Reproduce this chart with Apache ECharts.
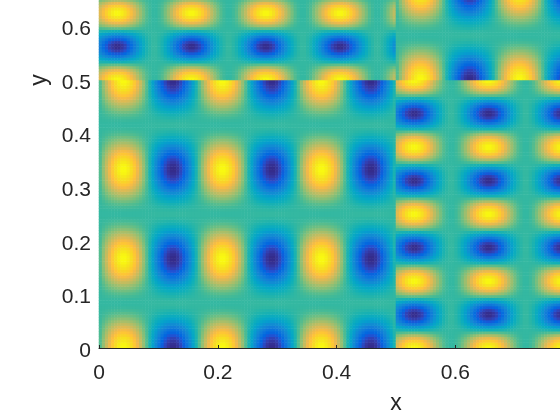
<!DOCTYPE html>
<html><head><meta charset="utf-8">
<style>html,body{margin:0;padding:0;background:#fff}#c{width:560px;height:420px;overflow:hidden}</style>
<script src="https://cdn.jsdelivr.net/npm/echarts@6/dist/echarts.min.js"></script>
</head><body><div id="c"></div>
<script>
var xTicks = ['0','0.2','0.4','0.6','0.8','1'];
var yTicks = ['0','0.1','0.2','0.3','0.4','0.5','0.6','0.7','0.8','0.9','1'];
var xLabel = 'x', yLabel = 'y';
var bands = 192;
var xSlow = [
.10,.29,.47,.63,.77,.88,.96,1,1,.96,.88,.77,.63,.47,.29,.10,-.10,-.29,-.47,-.63,-.77,-.88,-.96,-1,-1,-.96,-.88,-.77,-.63,-.47,-.29,-.10,
.10,.29,.47,.63,.77,.88,.96,1,1,.96,.88,.77,.63,.47,.29,.10,-.10,-.29,-.47,-.63,-.77,-.88,-.96,-1,-1,-.96,-.88,-.77,-.63,-.47,-.29,-.10,
.10,.29,.47,.63,.77,.88,.96,1,1,.96,.88,.77,.63,.47,.29,.10,-.10,-.29,-.47,-.63,-.77,-.88,-.96,-1,-1,-.96,-.88,-.77,-.63,-.47,-.29,-.10,
.10,.29,.47,.63,.77,.88,.96,1,1,.96,.88,.77,.63,.47,.29,.10,-.10,-.29,-.47,-.63,-.77,-.88,-.96,-1,-1,-.96,-.88,-.77,-.63,-.47,-.29,-.10,
.10,.29,.47,.63,.77,.88,.96,1,1,.96,.88,.77,.63,.47,.29,.10,-.10,-.29,-.47,-.63,-.77,-.88];
var xFast = [
.57,.69,.80,.90,.96,1,1,.96,.90,.80,.69,.57,.43,.31,.20,.10,.04,0,0,.04,.10,.20,.31,.43,
.57,.69,.80,.90,.96,1,1,.96,.90,.80,.69,.57,.43,.31,.20,.10,.04,0,0,.04,.10,.20,.31,.43,
.57,.69,.80,.90,.96,1,1,.96,.90,.80,.69,.57,.43,.31,.20,.10,.04,0,0,.04,.10,.20,.31,.43,
.57,.69,.80,.90,.96,1,1,.96,.90,.80,.69,.57,.43,.31,.20,.10,.04,0,0,.04,.10,.20,.31,.43,
.57,.69,.80,.90,.96,1,1,.96,.90,.80,.69,.57,.43,.31,.20,.10,.04,0,0,.04,.10,.20,.31,.43,
.57,.69,.80,.90,.96,1,1,.96,.90,.80,.69,.57,.43,.31,.20,.10,.04,0,0,.04,.10,.20,.31,.43,
.57,.69,.80,.90,.96,1];
var ySlow = [
1,.98,.94,.89,.82,.74,.65,.55,.45,.35,.26,.18,.11,.06,.02,0,0,.02,.06,.11,.18,.26,.35,.45,.55,.65,.74,.82,.89,.94,.98,1,
1,.98,.94,.89,.82,.74,.65,.55,.45,.35,.26,.18,.11,.06,.02,0,0,.02,.06,.11,.18,.26,.35,.45,.55,.65,.74,.82,.89,.94,.98,1,
1,.98,.94,.89,.82,.74,.65,.55,.45,.35,.26,.18,.11,.06,.02,0,0,.02,.06,.11,.18,.26,.35,.45,.55,.65,.74,.82,.89,.94,.98,1,
1,.98,.94,.89,.82,.74,.65,.55,.45,.35,.26,.18,.11,.06,.02,0,0,.02,.06,.11,.18,.26,.35,.45,.55,.65,.74,.82,.89,.94];
var yFast = [
.99,.92,.79,.61,.38,.13,-.13,-.38,-.61,-.79,-.92,-.99,-.99,-.92,-.79,-.61,-.38,-.13,.13,.38,.61,.79,.92,.99,
.99,.92,.79,.61,.38,.13,-.13,-.38,-.61,-.79,-.92,-.99,-.99,-.92,-.79,-.61,-.38,-.13,.13,.38,.61,.79,.92,.99,
.99,.92,.79,.61,.38,.13,-.13,-.38,-.61,-.79,-.92,-.99,-.99,-.92,-.79,-.61,-.38,-.13,.13,.38,.61,.79,.92,.99,
.99,.92,.79,.61,.38,.13,-.13,-.38,-.61,-.79,-.92,-.99,-.99,-.92,-.79,-.61,-.38,-.13,.13,.38,.61,.79,.92,.99,
.99,.92,.79,.61,.38,.13,-.13,-.38,-.61,-.79,-.92,-.99,-.99,-.92,-.79,-.61,-.38,-.13,.13,.38,.61,.79,.92,.99,
.99,.92,.79,.61,.38,.13];
var parula = ['#352a87','#353dad','#2053d4','#0268e1','#0d75dc','#1481d6','#108ed2','#079ccf','#06a7c6','#0fafb9','#25b5a9','#42ba98','#65be86','#87bf77','#a5be6b','#c0bc60','#d9ba56','#f1b94a','#ffc337','#f9d329','#f5e41d','#f9fb0e'];

var cats = [];
for (var k = 0; k < bands; k++) cats.push(String(k));
var cells = [];
for (var i = 0; i < xSlow.length; i++) {
  for (var j = 0; j < ySlow.length; j++) {
    var slow = (i < bands / 2) === (j < bands / 2);
    var v = slow ? xSlow[i] * ySlow[j] : xFast[i] * yFast[j];
    cells.push([i, j, v]);
  }
}
var ink = '#262626';
var font = 'Liberation Sans';
var chart = echarts.init(document.getElementById('c'), null, {renderer: 'canvas'});
chart.setOption({
  animation: false,
  grid: {left: 99, top: -188, width: 594, height: 536, containLabel: false, outerBoundsMode: 'none'},
  visualMap: {show: false, type: 'continuous', min: -1.01, max: 1.01, dimension: 2, seriesIndex: 0, inRange: {color: parula}},
  xAxis: [
    {type: 'category', data: cats, show: false},
    {type: 'value', min: 0, max: 1, interval: 0.2, position: 'bottom', z: 5,
     name: xLabel, nameLocation: 'middle', nameGap: 44, nameTextStyle: {color: ink, fontSize: 23, fontFamily: font},
     splitLine: {show: false},
     axisLine: {show: true, lineStyle: {color: ink, width: 1}},
     axisTick: {show: true, inside: true, length: 3, lineStyle: {color: ink, width: 1}},
     axisLabel: {color: ink, fontSize: 21, fontFamily: font, margin: 15, formatter: function (v) { return xTicks[Math.round(v * 5)]; }}}
  ],
  yAxis: [
    {type: 'category', data: cats, show: false},
    {type: 'value', min: 0, max: 1, interval: 0.1, position: 'left', z: 5,
     name: yLabel, nameLocation: 'middle', nameGap: 46, nameTextStyle: {color: ink, fontSize: 23, fontFamily: font},
     splitLine: {show: false},
     axisLine: {show: false},
     axisTick: {show: false},
     axisLabel: {margin: 8, formatter: function (v) { return '{t|' + yTicks[Math.round(v * 10)] + '}'; },
       rich: {t: {color: ink, fontSize: 21, fontFamily: font, padding: [6, 0, 0, 0]}}}}
  ],
  series: [{type: 'heatmap', xAxisIndex: 0, yAxisIndex: 0, data: cells, progressive: 0, emphasis: {disabled: true}, silent: true}]
});
</script></body></html>
